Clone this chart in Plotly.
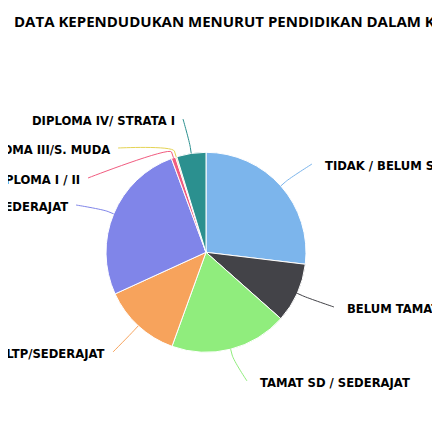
import math
import plotly.graph_objects as go

# ---- data ----
categories = [
    "TIDAK / BELUM SEKOLAH",
    "BELUM TAMAT SD/SEDERAJAT",
    "TAMAT SD / SEDERAJAT",
    "SLTP/SEDERAJAT",
    "SLTA / SEDERAJAT",
    "DIPLOMA I / II",
    "DIPLOMA III/S. MUDA",
    "DIPLOMA IV/ STRATA I",
]
values = [268, 96, 189, 126, 261, 7, 2, 47]
title_text = "DATA KEPENDUDUKAN MENURUT PENDIDIKAN DALAM KK"

# ---- styling / layout ----
colors = ["#7cb5ec", "#434348", "#90ed7d", "#f7a35c", "#8085e9",
          "#f15c80", "#e4d354", "#2b908f"]
PAGE_OFFSET = 8          # default page margin around the figure
W = 440 - PAGE_OFFSET    # keep the figure inside the 440px window
H = 440 - 2 * PAGE_OFFSET
CX, CY, R = 206.0, 252.3, 100.0   # on-screen pie centre / radius
# on-screen label anchor : (x, y, side)
label_pos = [
    (323, 166, "right"),
    (345, 309, "right"),
    (258, 383, "right"),
    (107, 354, "left"),
    (70, 207, "left"),
    (82, 180, "left"),
    (112, 150, "left"),
    (177, 121, "left"),
]
LABEL_FONT = dict(family="DejaVu Sans", size=11.6, color="#000000", weight="bold")
TITLE_FONT = dict(family="Open Sans", size=15, color="#000000", weight="bold")


def px(x):
    return (x - PAGE_OFFSET) / W


def py(y):
    return 1 - (y - PAGE_OFFSET) / H


fig = go.Figure()
fig.add_trace(go.Pie(
    labels=categories,
    values=values,
    sort=False,
    direction="clockwise",
    rotation=0,
    textinfo="none",
    hoverinfo="label+value+percent",
    marker=dict(colors=colors, line=dict(color="#ffffff", width=1)),
    domain=dict(x=[px(CX - R), px(CX + R)], y=[py(CY + R), py(CY - R)]),
    showlegend=False,
))

total = sum(values)
shapes = []
annotations = []
cum = 0.0
for name, v, col, (lx, ly, side) in zip(categories, values, colors, label_pos):
    mid = (cum + v / 2) / total * 2 * math.pi
    cum += v
    tx, ty = CX + R * math.sin(mid), CY - R * math.cos(mid)
    bx, by = CX + (R + 6) * math.sin(mid), CY - (R + 6) * math.cos(mid)
    ax = lx - 11 if side == "right" else lx + 6
    ay = ly - 2
    c2x, c2y = 2 * bx - tx, 2 * by - ty
    path = (f"M {px(ax)} {py(ay)} C {px(ax)} {py(ay)}, {px(c2x)} {py(c2y)}, "
            f"{px(bx)} {py(by)} L {px(tx)} {py(ty)}")
    shapes.append(dict(type="path", xref="paper", yref="paper", path=path,
                       line=dict(color=col, width=1)))
    annotations.append(dict(
        x=px(lx), y=py(ly), xref="paper", yref="paper", text=name,
        showarrow=False, xanchor="left" if side == "right" else "right",
        yanchor="middle", font=LABEL_FONT,
    ))

annotations.append(dict(
    x=px(12), y=py(21), xref="paper", yref="paper", text=title_text,
    showarrow=False, xanchor="left", yanchor="middle", font=TITLE_FONT,
))

fig.update_layout(
    width=W, height=H,
    margin=dict(l=0, r=0, t=0, b=0),
    paper_bgcolor="#ffffff",
    plot_bgcolor="#ffffff",
    shapes=shapes,
    annotations=annotations,
)

fig.write_html("out.html")
